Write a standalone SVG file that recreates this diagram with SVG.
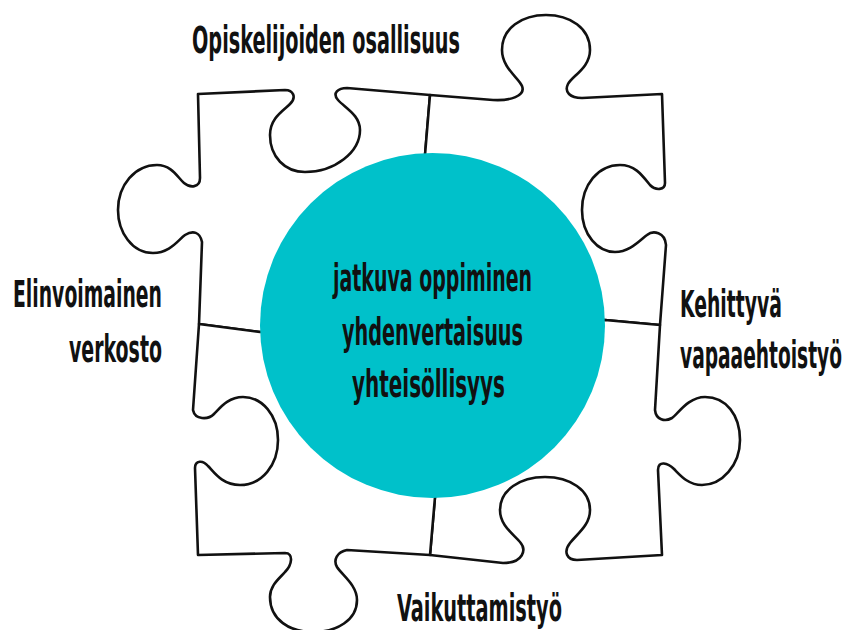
<svg xmlns="http://www.w3.org/2000/svg" width="847" height="630" viewBox="0 0 847 630">
<style>
.piece{fill:#ffffff;stroke:#111111;stroke-width:2.6;stroke-linejoin:round;stroke-linecap:round}
.lbl{font-family:"Liberation Sans Narrow","DejaVu Sans Condensed","Liberation Sans",sans-serif;font-weight:bold;font-size:37px;fill:#111111}
</style>
<rect width="847" height="630" fill="#ffffff"/>
<g id="piece-top-left">
<path class="piece" d="M432,325 L260,332 L199,324 L202,242 C200,232 193,230 185,235 C178,240 170,253 153,253 C132,253 118,232 118,210 C118,185 135,165 157,165 C172,165 178,178 184,183 C190,188 200,188 200,178 L198,94 L285,90 C293,90 297,97 290,104 C283,111 270,118 270,135 C270,157 285,172 305,172 C335,172 360,152 360,130 C360,115 345,108 338,100 C332,93 338,88 347,88 L430,95 L425,155 Z"/>
</g>
<g id="piece-top-right">
<path class="piece" d="M432,325 L425,155 L430,95 L493,100 C510,101 526,96 522,86 C519,78 502,68 502,50 C502,28 522,15 546,15 C570,15 590,28 590,50 C590,68 572,76 568,84 C564,92 570,98 582,98 L662,94 L665,183 C665,190 656,191 650,185 C642,175 635,165 620,165 C598,165 582,185 582,210 C582,235 598,252 615,252 C630,252 640,240 647,235 C653,230 665,232 666,245 L660,325 L605,320 Z"/>
</g>
<g id="piece-bottom-right">
<path class="piece" d="M432,325 L605,320 L660,325 L655,410 C656,420 665,422 672,418 C678,414 688,397 705,397 C726,397 740,415 740,440 C740,465 722,485 702,485 C688,485 680,475 674,469 C668,463 658,460 658,470 L662,555 L577,560 C567,560 563,552 570,543 C578,533 590,525 590,510 C590,490 570,477 545,477 C520,477 500,490 500,510 C500,525 512,533 520,542 C527,550 523,563 503,563 L430,555 L435,497 Z"/>
</g>
<g id="piece-bottom-left">
<path class="piece" d="M432,325 L435,497 L430,555 L347,550 C337,552 333,560 337,567 C342,575 357,585 357,600 C357,620 337,632 313,632 C290,632 270,620 270,597 C270,585 280,578 285,572 C292,565 294,553 285,553 L198,555 L195,468 C195,460 203,460 208,466 C214,472 222,485 240,485 C262,485 278,465 278,440 C278,415 262,397 243,397 C228,397 220,408 214,414 C208,420 195,420 193,410 L199,324 L260,332 Z"/>
</g>
<g id="center">
<circle cx="432.5" cy="325.5" r="172.5" fill="#00C1CA"/>
<text class="lbl" x="333" y="291" textLength="199" lengthAdjust="spacingAndGlyphs">jatkuva oppiminen</text>
<text class="lbl" x="342" y="345" textLength="181" lengthAdjust="spacingAndGlyphs">yhdenvertaisuus</text>
<text class="lbl" x="352" y="397" textLength="153" lengthAdjust="spacingAndGlyphs">yhteisöllisyys</text>
</g>
<g id="label-top">
<text class="lbl" x="192" y="53" textLength="268" lengthAdjust="spacingAndGlyphs">Opiskelijoiden osallisuus</text>
</g>
<g id="label-left">
<text class="lbl" x="13" y="307" textLength="149" lengthAdjust="spacingAndGlyphs">Elinvoimainen</text>
<text class="lbl" x="69" y="362" textLength="93" lengthAdjust="spacingAndGlyphs">verkosto</text>
</g>
<g id="label-right">
<text class="lbl" x="680" y="317" textLength="102" lengthAdjust="spacingAndGlyphs">Kehittyvä</text>
<text class="lbl" x="680" y="368" textLength="162" lengthAdjust="spacingAndGlyphs">vapaaehtoistyö</text>
</g>
<g id="label-bottom">
<text class="lbl" x="397" y="621" textLength="165" lengthAdjust="spacingAndGlyphs">Vaikuttamistyö</text>
</g>
</svg>
